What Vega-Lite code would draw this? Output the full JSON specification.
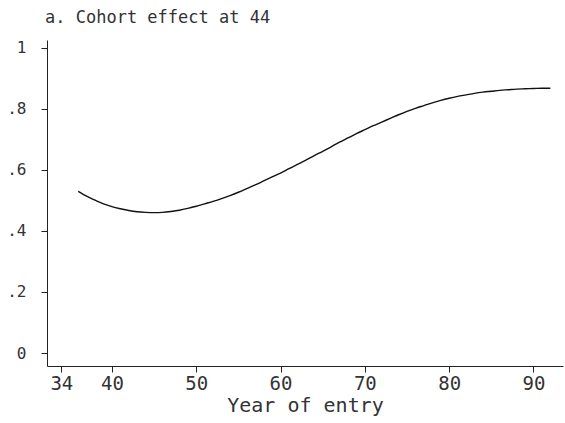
{
  "$schema": "https://vega.github.io/schema/vega-lite/v6.json",
  "width": 516,
  "height": 326,
  "autosize": {"type": "none"},
  "padding": {"left": 47, "top": 40, "right": 2, "bottom": 57},
  "background": "white",
  "config": {
    "view": {"stroke": null},
    "font": "DejaVu Sans Mono"
  },
  "title": {
    "text": "a. Cohort effect at 44",
    "anchor": "start",
    "frame": "group",
    "font": "DejaVu Sans Mono",
    "fontSize": 17,
    "fontWeight": "normal",
    "color": "#333",
    "offset": 13,
    "dx": -2
  },
  "data": {
    "values": [
      {"year": 36, "effect": 0.530},
      {"year": 37, "effect": 0.514},
      {"year": 38, "effect": 0.501},
      {"year": 39, "effect": 0.489},
      {"year": 40, "effect": 0.480},
      {"year": 41, "effect": 0.473},
      {"year": 42, "effect": 0.467},
      {"year": 43, "effect": 0.463},
      {"year": 44, "effect": 0.461},
      {"year": 45, "effect": 0.460},
      {"year": 46, "effect": 0.461},
      {"year": 47, "effect": 0.464},
      {"year": 48, "effect": 0.468},
      {"year": 49, "effect": 0.474},
      {"year": 50, "effect": 0.481},
      {"year": 51, "effect": 0.489},
      {"year": 52, "effect": 0.497},
      {"year": 53, "effect": 0.506},
      {"year": 54, "effect": 0.516},
      {"year": 55, "effect": 0.527},
      {"year": 56, "effect": 0.539},
      {"year": 57, "effect": 0.551},
      {"year": 58, "effect": 0.564},
      {"year": 59, "effect": 0.577},
      {"year": 60, "effect": 0.590},
      {"year": 61, "effect": 0.604},
      {"year": 62, "effect": 0.618},
      {"year": 63, "effect": 0.632},
      {"year": 64, "effect": 0.647},
      {"year": 65, "effect": 0.661},
      {"year": 66, "effect": 0.676},
      {"year": 67, "effect": 0.691},
      {"year": 68, "effect": 0.705},
      {"year": 69, "effect": 0.719},
      {"year": 70, "effect": 0.732},
      {"year": 71, "effect": 0.745},
      {"year": 72, "effect": 0.757},
      {"year": 73, "effect": 0.769},
      {"year": 74, "effect": 0.781},
      {"year": 75, "effect": 0.792},
      {"year": 76, "effect": 0.802},
      {"year": 77, "effect": 0.811},
      {"year": 78, "effect": 0.820},
      {"year": 79, "effect": 0.828},
      {"year": 80, "effect": 0.835},
      {"year": 81, "effect": 0.841},
      {"year": 82, "effect": 0.846},
      {"year": 83, "effect": 0.851},
      {"year": 84, "effect": 0.855},
      {"year": 85, "effect": 0.858},
      {"year": 86, "effect": 0.861},
      {"year": 87, "effect": 0.863},
      {"year": 88, "effect": 0.865},
      {"year": 89, "effect": 0.866},
      {"year": 90, "effect": 0.867},
      {"year": 91, "effect": 0.868},
      {"year": 92, "effect": 0.868}
    ]
  },
  "mark": {"type": "line", "color": "#111", "strokeWidth": 1.4, "interpolate": "monotone"},
  "encoding": {
    "x": {
      "field": "year",
      "type": "quantitative",
      "scale": {"domain": [32.3, 93.5], "nice": false, "zero": false},
      "axis": {
        "values": [34, 40, 50, 60, 70, 80, 90],
        "title": "Year of entry",
        "titleFont": "DejaVu Sans Mono",
        "titleFontSize": 20,
        "titleFontWeight": "normal",
        "titleColor": "#333",
        "titlePadding": 2,
        "labelFont": "DejaVu Sans Mono",
        "labelFontSize": 19,
        "labelColor": "#333",
        "labelPadding": 2,
        "labelFlush": false,
        "tickSize": 6,
        "tickColor": "#222",
        "domainColor": "#222",
        "grid": false
      }
    },
    "y": {
      "field": "effect",
      "type": "quantitative",
      "scale": {"domain": [-0.0426, 1.026], "nice": false, "zero": false},
      "axis": {
        "values": [0, 0.2, 0.4, 0.6, 0.8, 1],
        "labelExpr": "datum.value == 0 ? '0' : datum.value == 1 ? '1' : replace(format(datum.value, '.1f'), '0.', '.')",
        "title": null,
        "labelFont": "DejaVu Sans Mono",
        "labelFontSize": 16,
        "labelColor": "#333",
        "labelPadding": 15,
        "labelFlush": false,
        "tickSize": 6,
        "tickColor": "#222",
        "domainColor": "#222",
        "grid": false
      }
    }
  }
}
